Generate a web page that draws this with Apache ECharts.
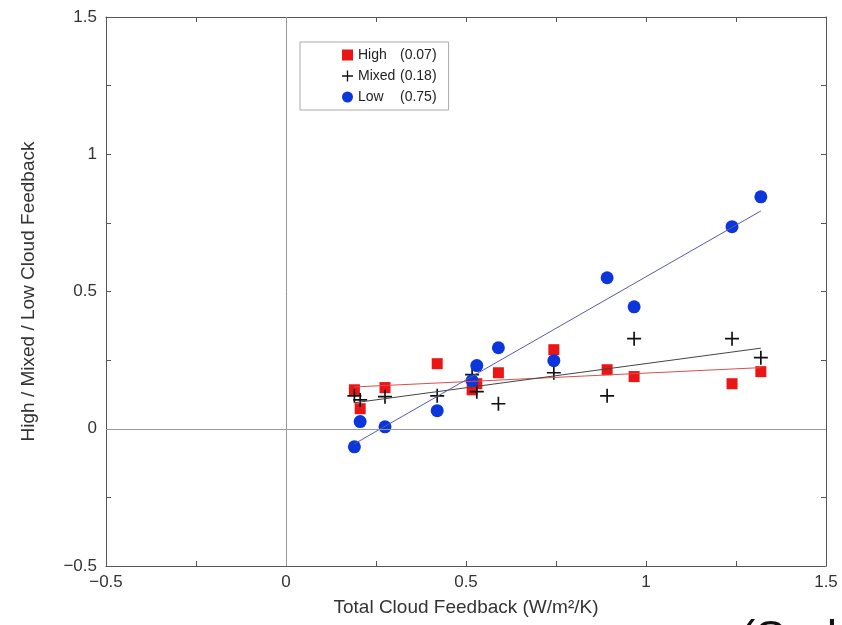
<!DOCTYPE html>
<html>
<head>
<meta charset="utf-8">
<script src="https://cdn.jsdelivr.net/npm/echarts@6/dist/echarts.min.js"></script>
<style>
html,body{margin:0;padding:0;background:#fff;}
#c{width:842px;height:625px;}
</style>
</head>
<body>
<div id="c"></div>
<script>
// Total cloud feedback per model (W/m2/K)
var totalFeedback = [0.19, 0.206, 0.275, 0.42, 0.517, 0.53, 0.59, 0.744, 0.892, 0.967, 1.239, 1.319];
var highFeedback  = [0.142, 0.073, 0.150, 0.237, 0.142, 0.164, 0.204, 0.288, 0.215, 0.190, 0.164, 0.208];
var mixedFeedback = [0.120, 0.105, 0.117, 0.120, 0.197, 0.135, 0.091, 0.204, 0.120, 0.328, 0.328, 0.259];
var lowFeedback   = [-0.066, 0.026, 0.007, 0.066, 0.175, 0.230, 0.295, 0.248, 0.550, 0.444, 0.736, 0.845];
var seriesNames = ['High', 'Mixed', 'Low'];
var slopeLabels = ['0.07', '0.18', '0.75'];
var axisTicks = [-0.5, 0, 0.5, 1, 1.5];

function pairs(xs, ys){ return xs.map(function(x,i){ return [x, ys[i]]; }); }
function fit(xs, ys){
  var n = xs.length, mx = 0, my = 0;
  for (var i=0;i<n;i++){ mx += xs[i]; my += ys[i]; }
  mx/=n; my/=n;
  var sxy=0, sxx=0;
  for (var j=0;j<n;j++){ sxy += (xs[j]-mx)*(ys[j]-my); sxx += (xs[j]-mx)*(xs[j]-mx); }
  var b = sxy/sxx, a = my - b*mx;
  var x0 = Math.min.apply(null, xs), x1 = Math.max.apply(null, xs);
  return [[x0, a+b*x0],[x1, a+b*x1]];
}
function fmt(v){ return v < 0 ? '\u2212' + Math.abs(v) : String(v); }

var font = '"Liberation Sans", Arial, Helvetica, sans-serif';
var axisBase = {
  type: 'value', min: axisTicks[0], max: axisTicks[axisTicks.length-1], interval: 0.5,
  axisLine: { show: true, onZero: false, lineStyle: { color: '#555', width: 1 } },
  axisTick: { show: true, inside: true, length: 5, lineStyle: { color: '#555' } },
  minorTick: { show: true, splitNumber: 2, length: 5, lineStyle: { color: '#555' } },
  splitLine: { show: false },
  axisLabel: { show: true, color: '#333', fontSize: 17, fontFamily: font, formatter: fmt }
};
function ax(extra){ return Object.assign(JSON.parse(JSON.stringify(axisBase)), {axisLabel: Object.assign({}, axisBase.axisLabel)}, extra); }

var plusPath = 'path://M0,4.4H10V5.6H0Z M4.4,0H5.6V10H4.4Z';

var chart = echarts.init(document.getElementById('c'), null, {renderer: 'canvas'});
var xAxisMain = ax({ position: 'bottom', name: 'Total Cloud Feedback (W/m\u00B2/K)', nameLocation: 'middle', nameGap: 32,
  nameTextStyle: { fontSize: 19, color: '#333', fontFamily: font } });
xAxisMain.axisLabel.margin = 8;
var yAxisMain = ax({ position: 'left', name: 'High / Mixed / Low Cloud Feedback', nameLocation: 'middle', nameGap: 68,
  nameTextStyle: { fontSize: 19, color: '#333', fontFamily: font } });
yAxisMain.axisLabel.margin = 9;
var xAxisTop = ax({ position: 'top' }); xAxisTop.axisLabel = { show: false };
var yAxisRight = ax({ position: 'right' }); yAxisRight.axisLabel = { show: false };

var option = {
  backgroundColor: '#fff',
  animation: false,
  grid: { left: 106, right: 16, top: 17, bottom: 59, containLabel: false },
  xAxis: [xAxisMain, xAxisTop],
  yAxis: [yAxisMain, yAxisRight],
  legend: {
    data: seriesNames,
    orient: 'vertical',
    left: 300, top: 42,
    padding: [6, 12, 6, 42],
    itemWidth: 11, itemHeight: 11, itemGap: 7,
    borderColor: '#aaa', borderWidth: 1, backgroundColor: '#fff',
    formatter: function(name){
      var i = seriesNames.indexOf(name);
      return '{n|' + name + '}{v|(' + slopeLabels[i] + ')}';
    },
    textStyle: {
      fontFamily: font, fontSize: 14, color: '#222', lineHeight: 13,
      rich: { n: { width: 42, fontSize: 14, lineHeight: 13, fontFamily: font, color: '#222' },
              v: { fontSize: 14, lineHeight: 13, fontFamily: font, color: '#222' } }
    }
  },
  graphic: [{
    type: 'text', left: 740, top: 617, silent: true,
    style: { text: '(Soden', font: '46px ' + font, fill: '#111' }
  }],
  series: [
    { name: 'zero', type: 'line', data: [], silent: true,
      markLine: { silent: true, symbol: 'none', label: { show: false },
        lineStyle: { color: '#999', width: 1, type: 'solid' },
        data: [{ xAxis: 0 }, { yAxis: 0 }] } },
    { name: 'HighFit', type: 'line', data: fit(totalFeedback, highFeedback), showSymbol: false, silent: true,
      lineStyle: { color: '#d85050', width: 1 } },
    { name: 'MixedFit', type: 'line', data: fit(totalFeedback, mixedFeedback), showSymbol: false, silent: true,
      lineStyle: { color: '#444', width: 1 } },
    { name: 'LowFit', type: 'line', data: fit(totalFeedback, lowFeedback), showSymbol: false, silent: true,
      lineStyle: { color: '#5a5aa8', width: 1 } },
    { name: 'High', type: 'scatter', data: pairs(totalFeedback, highFeedback), symbol: 'rect', symbolSize: 11,
      itemStyle: { color: '#ec1515', opacity: 1 } },
    { name: 'Mixed', type: 'scatter', data: pairs(totalFeedback, mixedFeedback), symbol: plusPath, symbolSize: 14,
      itemStyle: { color: '#111', opacity: 1 } },
    { name: 'Low', type: 'scatter', data: pairs(totalFeedback, lowFeedback), symbol: 'circle', symbolSize: 13,
      itemStyle: { color: '#0b36dc', opacity: 1 } }
  ]
};
chart.setOption(option);
</script>
</body>
</html>
